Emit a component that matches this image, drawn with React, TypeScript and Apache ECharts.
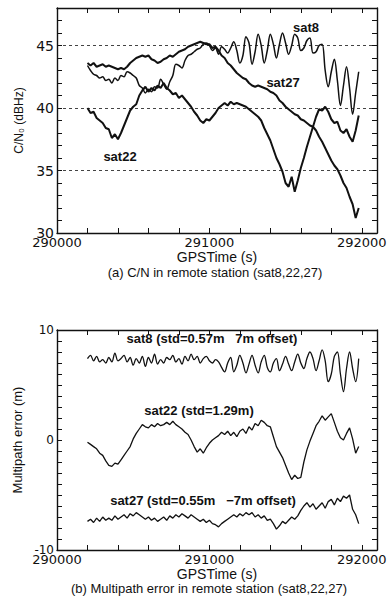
import React, { useEffect, useRef } from "react";
import * as echarts from "echarts";

// ---- data -------------------------------------------------------------
const gpsTime = [
  290200, 290220, 290240, 290260, 290280, 290300, 290320, 290340, 290360, 290380,
  290400, 290420, 290440, 290460, 290480, 290500, 290520, 290540, 290560, 290580,
  290600, 290620, 290640, 290660, 290680, 290700, 290720, 290740, 290760, 290780,
  290800, 290820, 290840, 290860, 290880, 290900, 290920, 290940, 290960, 290980,
  291000, 291020, 291040, 291060, 291080, 291100, 291120, 291140, 291160, 291180,
  291200, 291220, 291240, 291260, 291280, 291300, 291320, 291340, 291360, 291380,
  291400, 291420, 291440, 291460, 291480, 291500, 291520, 291540, 291560, 291580,
  291600, 291620, 291640, 291660, 291680, 291700, 291720, 291740, 291760, 291780,
  291800, 291820, 291840, 291860, 291880, 291900, 291920, 291940, 291960, 291980,
];

// C/N0 (dBHz)
const cnSat8 = [
  43.4, 43.0, 42.7, 42.6, 42.4, 42.5, 42.2, 42.3, 42.0, 42.4,
  42.2, 42.6, 42.5, 42.9, 42.8, 42.6, 42.4, 41.8, 41.6, 41.2,
  41.5, 41.3, 41.7, 41.6, 42.3, 41.9, 41.5, 42.1, 42.6, 43.5,
  43.4, 43.2, 43.8, 44.2, 44.3, 44.5, 44.7, 44.8, 45.1, 45.2,
  45.0, 44.6, 44.8, 44.3, 44.9, 44.7, 44.4, 44.8, 45.3, 44.6,
  43.6, 44.2, 45.7, 45.2, 43.5, 44.5, 45.9, 45.0, 43.6, 44.6,
  45.9, 45.1, 44.0, 45.1, 46.0, 45.2, 44.3, 45.0, 45.9, 45.6,
  44.6, 44.8, 45.4, 45.6, 44.4, 44.5, 45.0, 45.1, 43.0, 41.7,
  42.9, 43.9, 42.2, 40.2, 41.8, 43.3, 41.6, 39.5, 41.2, 42.9,
];
const cnSat22 = [
  40.0, 39.6, 39.7, 39.2, 39.0, 38.8, 38.4, 38.3, 37.6, 37.9,
  37.5, 38.0, 38.6, 39.2, 39.8, 40.1, 40.3, 41.0, 41.4, 41.7,
  41.3, 41.6, 41.4, 41.8, 41.6, 42.0, 41.6, 41.4, 41.1, 41.2,
  40.8, 41.0, 40.7, 40.4, 40.1, 39.7, 39.4, 39.0, 38.8, 39.1,
  39.0, 39.3, 39.6, 40.0, 40.2, 40.4, 40.2, 40.5, 40.3, 40.4,
  40.3, 40.2, 40.1, 39.9, 39.7, 39.5, 39.3, 39.0, 38.4, 37.9,
  37.4, 36.7, 36.0, 35.5, 34.9, 34.0, 33.7, 34.5, 33.3, 34.2,
  35.2, 36.0, 36.9, 37.7, 38.5, 39.3, 39.9, 39.8, 40.1, 39.7,
  39.1, 38.8, 38.9, 38.2, 38.0, 38.3, 37.7, 37.3, 38.2, 39.4,
];
const cnSat27 = [
  43.6, 43.4, 43.6, 43.3, 43.4, 43.5, 43.3, 43.4, 43.3, 43.2,
  43.1, 43.2, 43.1, 43.3, 43.6, 43.8, 44.0, 44.1, 44.2, 44.1,
  44.2, 43.9, 43.8, 43.6, 43.7, 43.9, 44.0, 44.2, 44.1, 44.3,
  44.5, 44.6, 44.7, 44.9, 45.0, 45.1, 45.2, 45.3, 45.2, 45.1,
  45.1, 44.8, 44.9, 44.6, 44.2, 44.0, 43.6, 43.4, 43.1, 42.8,
  42.6, 42.4, 42.3, 42.0, 41.8, 41.7, 41.8, 41.7, 41.6, 41.5,
  41.3, 41.2, 41.0, 40.6, 40.4, 40.1, 39.9, 39.7, 39.5, 39.4,
  39.1, 39.0, 38.8, 38.6, 38.5, 38.2, 37.7, 37.3, 36.8, 36.3,
  35.8, 35.4, 35.1, 34.6, 34.0, 33.6, 32.9, 32.3, 31.2, 32.0,
];

// Multipath error (m), with the offsets already included
const mpSat8 = [
  7.4, 7.7, 7.2, 7.6, 7.1, 7.3, 7.0, 7.5, 7.1, 7.9,
  7.2, 7.4, 7.7, 7.1, 7.5, 6.8, 7.4, 7.0, 7.6, 6.7,
  7.5, 7.0, 7.8, 6.9, 7.3, 7.0, 7.5, 7.3, 7.7, 7.1,
  7.4, 6.9, 7.6, 7.2, 7.8, 7.3, 7.6, 7.0, 7.4, 7.6,
  7.2, 7.0, 7.3, 7.1, 6.6, 6.2, 7.0, 7.5, 6.2, 6.8,
  7.7, 7.0, 6.1, 6.9, 7.7, 6.8, 6.1, 7.1, 7.7, 6.6,
  6.2, 7.0, 7.4, 6.3, 6.9, 7.6, 6.9, 6.3, 7.1, 7.8,
  7.0, 6.5, 7.4, 8.0, 7.4, 6.3, 7.2, 8.2, 7.2, 5.3,
  6.0, 7.6, 8.0, 6.0, 4.4, 6.5, 8.0, 6.5, 5.3, 7.4,
];
const mpSat22 = [
  -0.2, -0.4, -0.6, -0.8, -1.2, -1.4, -1.9, -2.3, -2.4, -2.1,
  -2.2, -1.8, -1.4, -1.0, -0.6, 0.1, 0.6, 1.0, 1.4, 1.2,
  1.1, 1.4, 1.2, 1.5, 1.3, 1.4, 1.6, 1.4, 1.7, 1.4,
  1.2, 1.0, 0.7, 0.5, 0.0, -0.6, -1.1, -0.8, -1.2, -0.7,
  -0.3, 0.0, 0.2, 0.4, 0.7, 0.5, 0.8, 0.4, 0.7, 0.3,
  0.8, 1.0, 0.6, 1.2, 0.9, 1.5, 1.3, 1.8, 1.6, 1.3,
  1.2, 0.3, -0.6, -1.1, -1.6, -2.3, -3.0, -3.6, -3.2, -3.5,
  -3.4, -2.0, -0.9, -0.1, 0.6, 1.3, 1.7, 2.2, 1.8, 2.1,
  2.4, 1.6, 0.8, 0.2, 0.0, 0.6, 1.1, 0.1, -1.2, -0.6,
];
const mpSat27 = [
  -7.4, -7.2, -7.5, -7.1, -7.4, -7.0, -7.3, -7.1, -7.3, -6.9,
  -7.2, -7.0, -6.8, -7.1, -6.7, -6.9, -6.6, -6.8, -7.0, -7.2,
  -7.0, -7.3, -7.1, -7.4, -7.2, -7.0, -7.3, -6.9, -7.1, -6.8,
  -7.0, -6.7, -6.9, -7.1, -6.8, -7.0, -7.2, -7.4, -7.2, -7.5,
  -7.3, -7.6, -7.7, -7.9, -7.6, -7.4, -7.2, -7.0, -6.8, -7.0,
  -6.7, -6.9, -6.6, -6.8, -6.6, -7.0, -6.8, -7.1, -6.9, -7.3,
  -7.2, -7.6, -8.1, -7.8, -7.4, -7.6, -7.3, -7.0, -7.2, -6.9,
  -6.4, -6.0, -5.7, -6.1, -5.8, -6.3, -6.0, -5.7, -6.2, -5.6,
  -5.4, -5.9, -5.3, -5.6, -5.1, -5.3, -5.0, -6.3, -6.8, -7.6,
];

// tick labels
const timeTickLabels = [290000, 291000, 292000];
const cnTickLabels = [30, 35, 40, 45];
const mpTickLabels = [-10, 0, 10];

// texts
const seriesNames = ["sat8", "sat22", "sat27"];
const mpNotes = [
  "sat8 (std=0.57m   7m offset)",
  "sat22 (std=1.29m)",
  "sat27 (std=0.55m   \u22127m offset)",
];
const captionA = "(a) C/N in remote station (sat8,22,27)";
const captionB = "(b) Multipath error in remote station (sat8,22,27)";

// ---- chart ------------------------------------------------------------
const ink = "#111";
const tickFont = "DejaVu Sans";
const textFont = "Liberation Sans";

const timeAxis = (
  gridIndex: number,
  position: "top" | "bottom",
  labelled: boolean,
  nameGap: number
) => ({
  type: "value",
  gridIndex,
  position,
  min: 290000,
  max: 292100,
  interval: 200,
  axisLine: { show: true, onZero: false, lineStyle: { color: ink, width: 1.4 } },
  axisTick: { show: true, inside: true, length: 5, lineStyle: { color: ink, width: 1 } },
  axisLabel: {
    show: labelled,
    margin: 3,
    fontFamily: tickFont,
    fontSize: 13,
    color: ink,
    formatter: (v: number) => (timeTickLabels.includes(v) ? String(v) : ""),
  },
  splitLine: { show: false },
  name: labelled ? "GPSTime (s)" : "",
  nameLocation: "middle",
  nameGap,
  nameTextStyle: { fontFamily: textFont, fontSize: 14, color: ink, lineHeight: 14 },
});

const valueAxis = (
  gridIndex: number,
  position: "left" | "right",
  min: number,
  max: number,
  labels: number[] | null,
  fontSize: number,
  name: string,
  nameGap: number,
  nameSize: number
) => ({
  type: "value",
  gridIndex,
  position,
  min,
  max,
  interval: 1,
  axisLine: { show: true, onZero: false, lineStyle: { color: ink, width: 1.4 } },
  axisTick: { show: true, inside: true, length: 5, lineStyle: { color: ink, width: 1 } },
  axisLabel: {
    show: !!labels,
    margin: 3,
    fontFamily: tickFont,
    fontSize,
    color: ink,
    formatter: (v: number) => (labels && labels.includes(v) ? String(v) : ""),
  },
  splitLine: { show: false },
  name,
  nameLocation: "middle",
  nameRotate: 90,
  nameGap,
  nameTextStyle: {
    fontFamily: "Liberation Sans Narrow, Liberation Sans",
    fontSize: nameSize,
    color: ink,
  },
});

const line = (
  xi: number,
  yi: number,
  name: string,
  values: number[],
  width: number,
  smooth: number
) => ({
  type: "line",
  name,
  xAxisIndex: xi,
  yAxisIndex: yi,
  data: gpsTime.map((t, i) => [t, values[i]]),
  showSymbol: false,
  silent: true,
  smooth,
  lineStyle: { color: ink, width },
  z: 3,
});

const label = (text: string, x: number, y: number, bold: boolean, size: number) => ({
  type: "text",
  x,
  y,
  silent: true,
  style: {
    text,
    align: "center",
    verticalAlign: "middle",
    fontFamily: textFont,
    fontWeight: bold ? "bold" : "normal",
    fontSize: size,
    lineHeight: size,
    fill: ink,
  },
});

const option = {
  animation: false,
  backgroundColor: "#fff",
  grid: [
    { left: 57, top: 8, width: 320, height: 225, containLabel: false, outerBoundsMode: "none" },
    { left: 57, top: 330, width: 320, height: 220, containLabel: false, outerBoundsMode: "none" },
  ],
  xAxis: [
    timeAxis(0, "bottom", true, 9),
    timeAxis(0, "top", false, 9),
    timeAxis(1, "bottom", true, 8),
    timeAxis(1, "top", false, 8),
  ],
  yAxis: [
    valueAxis(0, "left", 30, 48, cnTickLabels, 14, "C/N\u2080 (dBHz)", 20, 12),
    valueAxis(0, "right", 30, 48, null, 12, "", 0, 12),
    {
      type: "value",
      gridIndex: 0,
      min: 30,
      max: 48,
      interval: 5,
      axisLine: { show: false },
      axisTick: { show: false },
      axisLabel: { show: false },
      splitLine: {
        show: true,
        lineStyle: { color: "#444", width: 1, type: [3, 3] },
        showMaxLine: false,
        showMinLine: false,
      },
    },
    valueAxis(1, "left", -10, 10, mpTickLabels, 12, "Multipath error (m)", 26, 13),
    valueAxis(1, "right", -10, 10, null, 12, "", 0, 12),
  ],
  graphic: [
    label(seriesNames[0], 306, 27, true, 13),
    label(seriesNames[2], 283, 82, true, 13),
    label(seriesNames[1], 120, 156, true, 13),
    label(mpNotes[0], 212, 338, true, 13),
    label(mpNotes[1], 199, 410, true, 13),
    label(mpNotes[2], 203, 500, true, 13),
    label(captionA, 215, 272, false, 13),
    label(captionB, 209, 588, false, 13),
  ],
  series: [
    line(0, 0, seriesNames[0], cnSat8, 1.5, 0.35),
    line(0, 0, seriesNames[1], cnSat22, 2, 0),
    line(0, 0, seriesNames[2], cnSat27, 2, 0),
    line(2, 3, seriesNames[0], mpSat8, 1.3, 0.35),
    line(2, 3, seriesNames[1], mpSat22, 1.3, 0),
    line(2, 3, seriesNames[2], mpSat27, 1.3, 0),
  ],
};

export default function App() {
  const ref = useRef<HTMLDivElement>(null);
  useEffect(() => {
    if (!ref.current) return;
    const chart = echarts.init(ref.current, null, { renderer: "svg" });
    chart.setOption(option as any);
    return () => chart.dispose();
  }, []);
  return (
    <div
      ref={ref}
      style={{ position: "fixed", left: 0, top: 0, width: 388, height: 599, background: "#fff" }}
    />
  );
}
